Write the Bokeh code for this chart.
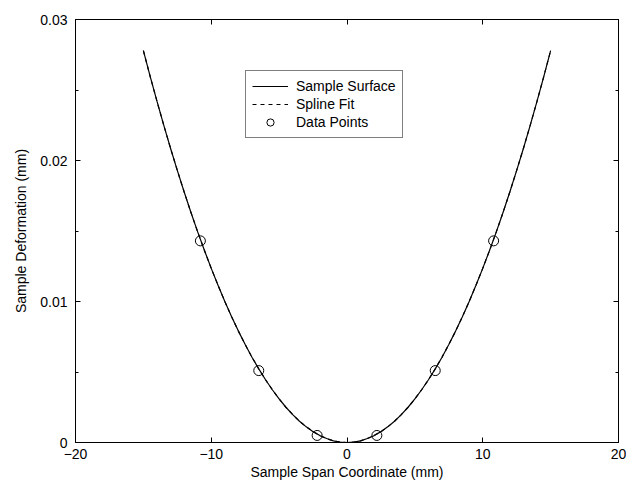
from bokeh.plotting import figure
from bokeh.models import (FixedTicker, LinearAxis, Legend, LegendItem,
                          CustomJSTickFormatter, Range1d)
from bokeh.embed import file_html
from bokeh.resources import INLINE

# Sample surface profile
surf_x = [-15, -14.5, -14, -13.5, -13, -12.5, -12, -11.5, -11, -10.5, -10,
          -9.5, -9, -8.5, -8, -7.5, -7, -6.5, -6, -5.5, -5, -4.5, -4, -3.5,
          -3, -2.5, -2, -1.5, -1, -0.5, 0, 0.5, 1, 1.5, 2, 2.5, 3, 3.5, 4,
          4.5, 5, 5.5, 6, 6.5, 7, 7.5, 8, 8.5, 9, 9.5, 10, 10.5, 11, 11.5,
          12, 12.5, 13, 13.5, 14, 14.5, 15]
surf_y = [0.02779, 0.02597, 0.02421, 0.02251, 0.02087, 0.01930, 0.01778,
          0.01633, 0.01494, 0.01362, 0.01235, 0.01115, 0.01000, 0.00892,
          0.00790, 0.00695, 0.00605, 0.00522, 0.00445, 0.00374, 0.00309,
          0.00250, 0.00198, 0.00151, 0.00111, 0.00077, 0.00049, 0.00028,
          0.00012, 0.00003, 0.0, 0.00003, 0.00012, 0.00028, 0.00049,
          0.00077, 0.00111, 0.00151, 0.00198, 0.00250, 0.00309, 0.00374,
          0.00445, 0.00522, 0.00605, 0.00695, 0.00790, 0.00892, 0.01000,
          0.01115, 0.01235, 0.01362, 0.01494, 0.01633, 0.01778, 0.01930,
          0.02087, 0.02251, 0.02421, 0.02597, 0.02779]

# Spline fit (coincides with the surface)
spline_x = surf_x
spline_y = surf_y

# Data points
pts_x = [-10.8, -6.5, -2.2, 2.2, 6.5, 10.8]
pts_y = [0.0143, 0.0051, 0.0005, 0.0005, 0.0051, 0.0143]

x_ticks = [-20, -10, 0, 10, 20]
y_ticks = [0, 0.01, 0.02, 0.03]
y_minor = [0.005, 0.015, 0.025]

FONT = "Liberation Sans"
FS = "14px"

p = figure(width=626, height=484, output_backend="svg", toolbar_location=None,
           x_range=Range1d(-20, 20), y_range=Range1d(0, 0.03),
           min_border_left=75, min_border_right=8, min_border_top=19,
           min_border_bottom=42)
p.background_fill_color = "white"
p.border_fill_color = "white"
p.outline_line_color = "black"
p.outline_line_width = 1
p.xgrid.visible = False
p.ygrid.visible = False

r_dash = p.line(spline_x, spline_y, line_color="black", line_width=1.2,
                line_dash="4 4")
r_surf = p.line(surf_x, surf_y, line_color="black", line_width=1.2)
r_pts = p.scatter(pts_x, pts_y, marker="circle", size=10, fill_color=None,
                  line_color="black", line_width=1)

yfmt = CustomJSTickFormatter(code="return tick == 0 ? '0' : tick.toFixed(2);")
xfmt = CustomJSTickFormatter(code="return tick < 0 ? '\u2212' + Math.abs(tick) : '' + tick;")
nofmt = CustomJSTickFormatter(code="return '';")

def style(ax, ticks, minor=None, labels=True):
    ax.ticker = FixedTicker(ticks=ticks, minor_ticks=minor or [])
    ax.axis_line_color = "black"
    ax.major_tick_in = 5
    ax.major_tick_out = 0
    ax.minor_tick_in = 3
    ax.minor_tick_out = 0
    ax.major_tick_line_color = "black"
    ax.minor_tick_line_color = "black"
    ax.major_label_text_font = FONT
    ax.major_label_text_font_size = FS
    ax.major_label_text_color = "black"
    ax.axis_label_text_font = FONT
    ax.axis_label_text_font_size = FS
    ax.axis_label_text_font_style = "normal"
    ax.axis_label_text_color = "black"
    if not labels:
        ax.formatter = nofmt
        ax.major_label_standoff = 0

style(p.xaxis[0], x_ticks)
p.xaxis[0].formatter = xfmt
p.xaxis[0].axis_label = "Sample Span Coordinate (mm)"
p.xaxis[0].major_label_standoff = 6
p.xaxis[0].axis_label_standoff = 2

style(p.yaxis[0], y_ticks, y_minor)
p.yaxis[0].formatter = yfmt
p.yaxis[0].axis_label = "Sample Deformation (mm)"
p.yaxis[0].major_label_standoff = 8
p.yaxis[0].axis_label_standoff = 8

top = LinearAxis()
style(top, x_ticks, labels=False)
p.add_layout(top, "above")
right = LinearAxis()
style(right, y_ticks, y_minor, labels=False)
p.add_layout(right, "right")

legend = Legend(items=[
    LegendItem(label="Sample Surface", renderers=[r_surf]),
    LegendItem(label="Spline Fit", renderers=[r_dash]),
    LegendItem(label="Data Points", renderers=[r_pts]),
], location=(170, 304))
legend.border_line_color = "black"
legend.border_line_width = 1
legend.background_fill_color = "white"
legend.background_fill_alpha = 1
legend.label_text_font = FONT
legend.label_text_font_size = FS
legend.label_text_color = "black"
legend.padding = 6
legend.spacing = 0
legend.margin = 0
legend.glyph_height = 18
legend.label_height = 18
legend.glyph_width = 36
legend.label_standoff = 8
p.add_layout(legend, "center")

open("out.html", "w").write(file_html(p, INLINE))
